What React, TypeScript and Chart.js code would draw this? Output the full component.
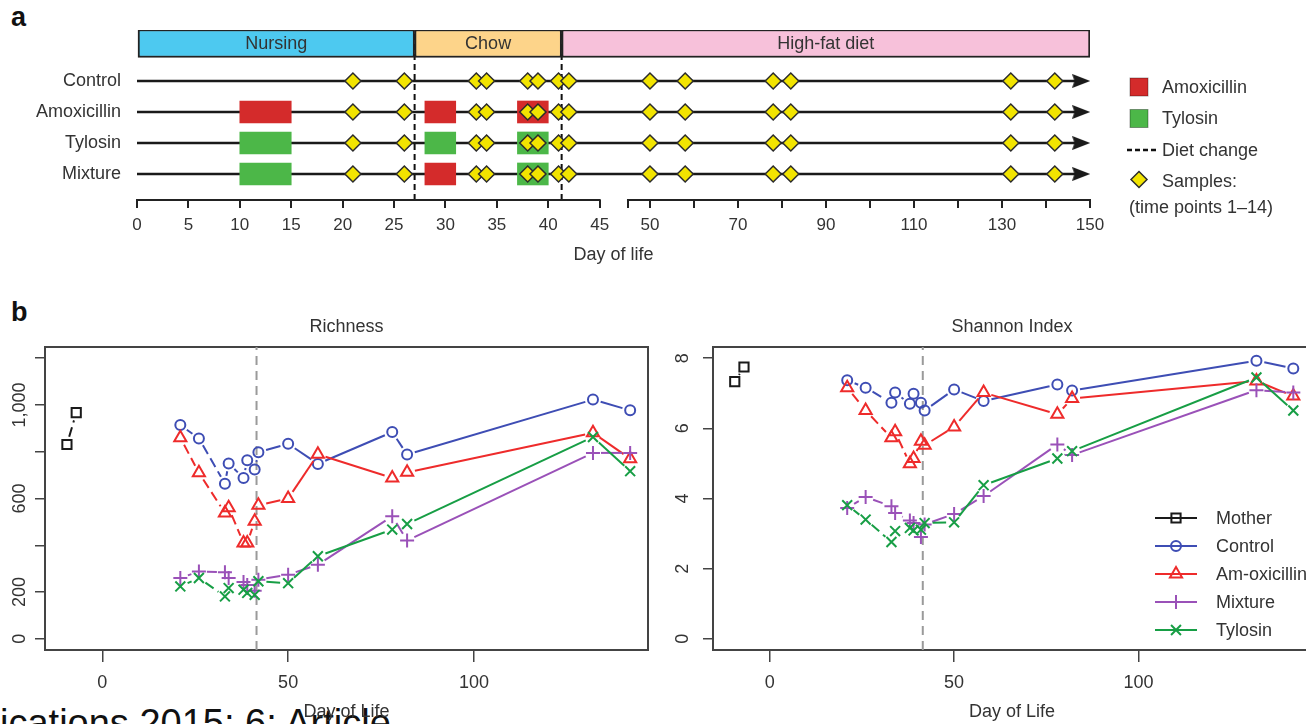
import React, { useEffect, useRef } from 'react';
import { Chart, registerables, LinearScale } from 'chart.js';
import { drawPoint } from 'chart.js/helpers';

Chart.register(...registerables);

const FONT = '"Liberation Sans", Arial, Helvetica, sans-serif';
const TEXT = '#333333';

// ---------------- Panel a data ----------------
const ROW_NAMES = ['Control', 'Amoxicillin', 'Tylosin', 'Mixture'];
const ROW_LEVELS = [4, 3, 2, 1];
const HEADER_LEVEL = 5.21;
const Y_A_MIN = 0.16;
const Y_A_MAX = 5.645;
const SAMPLE_DAYS = [21, 26, 33, 34, 38, 39, 41, 42, 50, 58, 78, 82, 132, 142];
const TREATMENT_WINDOWS = [[10, 15], [28, 31], [37, 40]];
const ROW_REGIMENS = [
  [null, null, null],
  ['Amoxicillin', 'Amoxicillin', 'Amoxicillin'],
  ['Tylosin', 'Tylosin', 'Tylosin'],
  ['Tylosin', 'Amoxicillin', 'Tylosin'],
];
const DRUGS = ['Amoxicillin', 'Tylosin'];
const PHASE_NAMES = ['Nursing', 'Chow', 'High-fat diet'];
const PHASE_STARTS = [0, 27, 41.3];
const PHASE_ENDS = [27, 41.3, 150];
const DIET_CHANGE_DAYS = [27, 41.3];
const TIMELINE_START = 0;
const ARROW_DAY = 148;
const AXIS_A_MIN = 0;
const AXIS_A_MAX = 150;
const AXIS_A_BREAK = 45;
const X_TICKS_A_LEFT = [0, 5, 10, 15, 20, 25, 30, 35, 40, 45];
const X_TICKS_A_RIGHT = [45, 50, 60, 70, 80, 90, 100, 110, 120, 130, 140, 150];
const X_LABELS_A_RIGHT = [50, 70, 90, 110, 130, 150];
const LEGEND_A_LABELS = ['Amoxicillin', 'Tylosin', 'Diet change', 'Samples:', '(time points 1\u201314)'];

// ---------------- Panel b data ----------------
const SERIES_NAMES = ['Mother', 'Control', 'Am-oxicillin', 'Mixture', 'Tylosin'];
const MOTHER_DAYS = [-9.5, -7];
const DAYS_B = [21, 26, 33, 34, 38, 39, 41, 42, 50, 58, 78, 82, 132, 142];
const DIET_CHANGE_B = 41.5;

const RICH_MOTHER = [831, 967];
const RICH_CONTROL = [914, 857, 663, 750, 688, 764, 724, 798, 834, 748, 884, 788, 1023, 977];
const RICH_AMOX = [860, 710, 538, 560, 410, 410, 503, 571, 600, 789, 688, 712, 881, 770];
const RICH_MIXTURE = [260, 288, 285, 260, 243, 230, 205, 253, 274, 317, 524, 420, 795, 795];
const RICH_TYLOSIN = [224, 260, 181, 217, 210, 196, 188, 246, 238, 353, 467, 491, 863, 717];

const SHAN_MOTHER = [7.33, 7.75];
const SHAN_CONTROL = [7.37, 7.16, 6.73, 7.02, 6.7, 6.99, 6.73, 6.51, 7.11, 6.78, 7.25, 7.08, 7.93, 7.71];
const SHAN_AMOX = [7.16, 6.51, 5.73, 5.9, 4.99, 5.14, 5.63, 5.52, 6.04, 7.02, 6.4, 6.85, 7.35, 6.92];
const SHAN_MIXTURE = [3.73, 4.04, 3.78, 3.59, 3.37, 3.3, 2.9, 3.26, 3.56, 4.07, 5.54, 5.24, 7.09, 7.02];
const SHAN_TYLOSIN = [3.81, 3.4, 2.76, 3.07, 3.16, 3.09, 3.11, 3.3, 3.32, 4.38, 5.14, 5.35, 7.45, 6.51];

const X_B_MIN = -15.4;
const X_B_MAX = 146.8;
const X_TICKS_B = [0, 50, 100];
const RICH_Y_MIN = -48;
const RICH_Y_MAX = 1248;
const RICH_Y_TICKS = [0, 200, 400, 600, 800, 1000, 1200];
const RICH_Y_LABELED = [0, 200, 600, 1000];
const SHAN_Y_MIN = -0.32;
const SHAN_Y_MAX = 8.32;
const SHAN_Y_TICKS = [0, 2, 4, 6, 8];
const SHAN_Y_LABELED = [0, 2, 4, 6, 8];

// ---------------- styles ----------------
const PHASE_COLORS = ['#4DC9F0', '#FDD48A', '#F7C1DA'];
const DRUG_COLORS: any = { Amoxicillin: '#D42B2B', Tylosin: '#4CB748' };
const SAMPLE_FILL = '#F2E400';
const SERIES_COLORS = ['#1A1A1A', '#3E4DB4', '#EE2B2B', '#9A51B8', '#179E45'];
const SERIES_MARKERS = ['rect', 'circle', 'triangle', 'cross', 'crossRot'];
const SERIES_RADII = [6.5, 5, 7, 7, 7];
const POINT_GAP = 8;
const DASH_ON = 10;
const DASH_OFF = 5;
const LEFT_SPAN_FRAC = 0.4855;
const RIGHT_START_FRAC = 0.5152;
const BREAK_EPS = 1e-6;

// ---------------- broken axis scale ----------------
class BrokenLinearScale extends LinearScale {
  static id = 'brokenLinear';
  static defaults = LinearScale.defaults;
  getPixelForValue(value: any) {
    if (value === null || value === undefined || isNaN(value)) return NaN;
    const lo = (this as any).min;
    const hi = (this as any).max;
    const dec = value <= AXIS_A_BREAK
      ? ((value - lo) / (AXIS_A_BREAK - lo)) * LEFT_SPAN_FRAC
      : RIGHT_START_FRAC + ((value - AXIS_A_BREAK) / (hi - AXIS_A_BREAK)) * (1 - RIGHT_START_FRAC);
    return (this as any).getPixelForDecimal(dec);
  }
  getValueForPixel(pixel: number) {
    const dec = (this as any).getDecimalForPixel(pixel);
    const lo = (this as any).min;
    const hi = (this as any).max;
    if (dec <= LEFT_SPAN_FRAC) return lo + (dec / LEFT_SPAN_FRAC) * (AXIS_A_BREAK - lo);
    return AXIS_A_BREAK + ((dec - RIGHT_START_FRAC) / (1 - RIGHT_START_FRAC)) * (hi - AXIS_A_BREAK);
  }
}
Chart.register(BrokenLinearScale as any);

// ---------------- helpers ----------------
function font(size: number, weight: any = 'normal') {
  return { family: FONT, size, weight, lineHeight: 1.2 };
}

function gapDash(c: any, dashed: boolean): number[] {
  const p0 = c.p0;
  const p1 = c.p1;
  const len = Math.hypot(p1.x - p0.x, p1.y - p0.y);
  const inner = len - 2 * POINT_GAP;
  if (inner <= 0) return [0, len + 1000];
  const pattern: number[] = [0, POINT_GAP];
  if (!dashed) {
    pattern.push(inner, POINT_GAP + 1000);
    return pattern;
  }
  let rem = inner;
  let on = true;
  while (rem > 0.01) {
    const seg = Math.min(on ? DASH_ON : DASH_OFF, rem);
    pattern.push(seg);
    rem -= seg;
    on = !on;
  }
  if (pattern.length % 2 === 1) pattern.push(POINT_GAP + 1000);
  else pattern[pattern.length - 1] += POINT_GAP + 1000;
  return pattern;
}

function makeArrowHead(len: number, height: number, color: string) {
  const c = document.createElement('canvas');
  c.width = len;
  c.height = height;
  const g = c.getContext('2d')!;
  g.fillStyle = color;
  g.beginPath();
  g.moveTo(0, 0);
  g.lineTo(len, height / 2);
  g.lineTo(0, height);
  g.lineTo(len * 0.12, height / 2);
  g.closePath();
  g.fill();
  return c;
}

// ---------------- plugins ----------------
const phaseLabelPlugin = {
  id: 'phaseLabels',
  afterDatasetsDraw(chart: any) {
    const idx = chart.data.datasets.findIndex((d: any) => d.role === 'header');
    if (idx < 0) return;
    const meta = chart.getDatasetMeta(idx);
    const ctx = chart.ctx;
    ctx.save();
    ctx.font = `18px ${FONT}`;
    ctx.fillStyle = TEXT;
    ctx.textAlign = 'center';
    ctx.textBaseline = 'middle';
    meta.data.forEach((el: any, k: number) => {
      const p = el.getProps(['x', 'y', 'base'], true);
      ctx.fillText(PHASE_NAMES[k], (p.x + p.base) / 2, p.y + 1);
    });
    ctx.restore();
  },
};

const brokenAxisPlugin = {
  id: 'brokenAxis',
  afterDraw(chart: any) {
    const s = chart.scales.x;
    const ctx = chart.ctx;
    const y = s.top;
    ctx.save();
    ctx.strokeStyle = '#222';
    ctx.lineWidth = 2;
    ctx.lineCap = 'square';
    ctx.beginPath();
    ctx.moveTo(s.getPixelForValue(AXIS_A_MIN), y);
    ctx.lineTo(s.getPixelForValue(AXIS_A_BREAK), y);
    ctx.moveTo(s.getPixelForValue(AXIS_A_BREAK + BREAK_EPS), y);
    ctx.lineTo(s.getPixelForValue(AXIS_A_MAX), y);
    ctx.stroke();
    ctx.restore();
  },
};

const legendAPlugin = {
  id: 'legendA',
  afterDraw(chart: any) {
    const { ctx, chartArea } = chart;
    const sx = chartArea.right + 49;
    const tx = chartArea.right + 72;
    const y0 = chartArea.top + 57;
    const dy = 31.5;
    ctx.save();
    ctx.font = `18px ${FONT}`;
    ctx.textBaseline = 'middle';
    ctx.textAlign = 'left';
    LEGEND_A_LABELS.forEach((label, i) => {
      if (i === 4) {
        const y = y0 + 3 * dy + 27;
        ctx.fillStyle = TEXT;
        ctx.fillText(label, sx - 10, y);
        return;
      }
      const y = y0 + i * dy;
      if (i < 2) {
        ctx.fillStyle = DRUG_COLORS[DRUGS[i]];
        ctx.fillRect(sx - 9, y - 9, 18, 18);
        ctx.strokeStyle = 'rgba(0,0,0,0.35)';
        ctx.lineWidth = 1;
        ctx.strokeRect(sx - 9, y - 9, 18, 18);
      } else if (i === 2) {
        ctx.strokeStyle = '#111';
        ctx.lineWidth = 2.5;
        ctx.setLineDash([5, 3]);
        ctx.beginPath();
        ctx.moveTo(sx - 12, y);
        ctx.lineTo(sx + 18, y);
        ctx.stroke();
        ctx.setLineDash([]);
      } else if (i === 3) {
        ctx.fillStyle = SAMPLE_FILL;
        ctx.strokeStyle = '#2B2B2B';
        ctx.lineWidth = 1.5;
        drawPoint(ctx, { pointStyle: 'rectRot', radius: 8, borderWidth: 1.5, rotation: 0 } as any, sx, y - 2);
      }
      ctx.fillStyle = TEXT;
      ctx.fillText(label, tx, y + 1);
    });
    ctx.restore();
  },
};

const plotBoxPlugin = {
  id: 'plotBox',
  beforeDatasetsDraw(chart: any) {
    const { ctx, chartArea: a } = chart;
    ctx.save();
    ctx.strokeStyle = '#444';
    ctx.lineWidth = 2;
    ctx.strokeRect(a.left, a.top, a.right - a.left, a.bottom - a.top);
    ctx.restore();
  },
};

const panelTitlePlugin = {
  id: 'panelTitle',
  afterDraw(chart: any, _args: any, opts: any) {
    if (!opts || !opts.text) return;
    const { ctx, chartArea: a } = chart;
    ctx.save();
    ctx.font = `18px ${FONT}`;
    ctx.fillStyle = TEXT;
    ctx.textAlign = 'center';
    ctx.textBaseline = 'middle';
    ctx.fillText(opts.text, (a.left + a.right) / 2, a.top - opts.gap);
    ctx.restore();
  },
};

const legendBPlugin = {
  id: 'legendB',
  afterDraw(chart: any, _args: any, opts: any) {
    if (!opts || !opts.show) return;
    const ctx = chart.ctx;
    ctx.save();
    ctx.font = `18px ${FONT}`;
    ctx.textBaseline = 'middle';
    ctx.textAlign = 'left';
    let row = 0;
    chart.data.datasets.forEach((ds: any) => {
      if (!ds.inLegend) return;
      const y = opts.y0 + row * opts.dy;
      ctx.strokeStyle = ds.borderColor;
      ctx.lineWidth = 2;
      ctx.setLineDash([]);
      ctx.beginPath();
      ctx.moveTo(opts.x0, y);
      ctx.lineTo(opts.x0 + opts.lineLen, y);
      ctx.stroke();
      ctx.fillStyle = 'rgba(0,0,0,0)';
      drawPoint(ctx, { pointStyle: ds.pointStyle, radius: ds.pointRadius, borderWidth: 2, rotation: 0 } as any, opts.x0 + opts.lineLen / 2, y);
      ctx.fillStyle = TEXT;
      ctx.fillText(ds.label, opts.textX, y + 1);
      row += 1;
    });
    ctx.restore();
  },
};

// ---------------- chart builders ----------------
function buildPanelA() {
  const arrow = makeArrowHead(18, 14, '#1A1A1A');
  const datasets: any[] = [];

  datasets.push({
    type: 'scatter',
    label: 'Samples',
    data: ROW_LEVELS.flatMap((level) => SAMPLE_DAYS.map((d) => ({ x: d, y: level }))),
    pointStyle: 'rectRot',
    pointRadius: 8,
    pointHoverRadius: 8,
    pointBackgroundColor: SAMPLE_FILL,
    pointBorderColor: '#2B2B2B',
    pointBorderWidth: 1.5,
    order: 0,
  });

  datasets.push({
    type: 'bar',
    role: 'header',
    label: 'Phases',
    indexAxis: 'y',
    grouped: false,
    data: PHASE_NAMES.map((_, k) => ({ x: [PHASE_STARTS[k], PHASE_ENDS[k]], y: HEADER_LEVEL })),
    backgroundColor: PHASE_COLORS,
    borderColor: '#222',
    borderWidth: 2,
    borderSkipped: false,
    barThickness: 28,
    maxBarThickness: 28,
    order: 1,
  });

  DRUGS.forEach((drug) => {
    const data: any[] = [];
    ROW_REGIMENS.forEach((reg, r) => {
      reg.forEach((d, w) => {
        if (d === drug) data.push({ x: TREATMENT_WINDOWS[w], y: ROW_LEVELS[r] });
      });
    });
    datasets.push({
      type: 'bar',
      label: drug,
      indexAxis: 'y',
      grouped: false,
      data,
      backgroundColor: DRUG_COLORS[drug],
      borderWidth: 0,
      barThickness: 22,
      maxBarThickness: 22,
      order: 2,
    });
  });

  ROW_LEVELS.forEach((level, r) => {
    datasets.push({
      type: 'line',
      label: ROW_NAMES[r],
      data: [{ x: TIMELINE_START, y: level }, { x: ARROW_DAY, y: level }],
      borderColor: '#1A1A1A',
      borderWidth: 2.5,
      showLine: true,
      pointRadius: [0, 9],
      pointHoverRadius: [0, 9],
      pointStyle: arrow,
      order: 3,
    });
  });

  DIET_CHANGE_DAYS.forEach((d) => {
    datasets.push({
      type: 'line',
      label: 'Diet change',
      data: [{ x: d, y: Y_A_MIN }, { x: d, y: Y_A_MAX }],
      borderColor: '#111',
      borderWidth: 2,
      borderDash: [6, 4],
      showLine: true,
      pointRadius: 0,
      order: 4,
    });
  });

  return {
    type: 'scatter',
    data: { datasets },
    plugins: [phaseLabelPlugin, brokenAxisPlugin, legendAPlugin],
    options: {
      animation: false,
      responsive: false,
      devicePixelRatio: 1,
      events: [],
      layout: { padding: { left: 0, right: 216, top: 30, bottom: 0 } },
      plugins: {
        legend: { display: false },
        tooltip: { enabled: false },
        title: { display: false },
      },
      scales: {
        x: {
          type: 'brokenLinear',
          min: AXIS_A_MIN,
          max: AXIS_A_MAX,
          offset: false,
          beginAtZero: false,
          afterBuildTicks: (s: any) => {
            s.ticks = [
              ...X_TICKS_A_LEFT.map((v) => ({ value: v })),
              ...X_TICKS_A_RIGHT.map((v) => ({ value: v === AXIS_A_BREAK ? v + BREAK_EPS : v })),
            ];
          },
          afterFit: (s: any) => { s.height = 70; },
          ticks: {
            autoSkip: false,
            maxRotation: 0,
            minRotation: 0,
            color: TEXT,
            font: font(17),
            padding: 7,
            callback: (v: any) => (X_TICKS_A_LEFT.includes(v) || X_LABELS_A_RIGHT.includes(v) ? String(v) : ''),
          },
          grid: { offset: false, drawOnChartArea: false, drawTicks: true, tickLength: 8, color: '#222', lineWidth: 2 },
          border: { display: false },
          title: { display: true, text: 'Day of life', color: TEXT, font: font(18), padding: { top: 0, bottom: 4 } },
        },
        y: {
          type: 'linear',
          min: Y_A_MIN,
          max: Y_A_MAX,
          offset: false,
          beginAtZero: false,
          afterBuildTicks: (s: any) => { s.ticks = ROW_LEVELS.map((v) => ({ value: v })); },
          afterFit: (s: any) => { s.width = 137; },
          ticks: {
            autoSkip: false,
            color: TEXT,
            font: font(18),
            padding: 16,
            callback: (v: any) => {
              const i = ROW_LEVELS.indexOf(v);
              return i >= 0 ? ROW_NAMES[i] : '';
            },
          },
          grid: { display: false, drawTicks: false, offset: false },
          border: { display: false },
        },
      },
    },
  };
}

function buildPanelB(spec: any) {
  const xsList = [MOTHER_DAYS, DAYS_B, DAYS_B, DAYS_B, DAYS_B];
  const datasets: any[] = [];
  spec.values.forEach((ys: number[], i: number) => {
    const xs = xsList[i];
    datasets.push({
      type: 'line',
      label: SERIES_NAMES[i],
      inLegend: true,
      data: xs.map((x, k) => ({ x, y: ys[k] })),
      borderColor: SERIES_COLORS[i],
      borderWidth: 2,
      showLine: true,
      tension: 0,
      pointStyle: SERIES_MARKERS[i],
      pointRadius: SERIES_RADII[i],
      pointHoverRadius: SERIES_RADII[i],
      pointBorderWidth: 2,
      pointBorderColor: SERIES_COLORS[i],
      pointBackgroundColor: 'rgba(0,0,0,0)',
      segment: { borderDash: (c: any) => gapDash(c, xs[c.p1DataIndex] <= DIET_CHANGE_B) },
      order: SERIES_NAMES.length - i,
    });
  });
  datasets.push({
    type: 'line',
    label: 'Diet change',
    inLegend: false,
    data: [{ x: DIET_CHANGE_B, y: spec.yMin }, { x: DIET_CHANGE_B, y: spec.yMax }],
    borderColor: '#9A9A9A',
    borderWidth: 2,
    borderDash: [9, 6],
    showLine: true,
    pointRadius: 0,
    order: 20,
  });

  return {
    type: 'scatter',
    data: { datasets },
    plugins: [plotBoxPlugin, legendBPlugin, panelTitlePlugin],
    options: {
      animation: false,
      responsive: false,
      devicePixelRatio: 1,
      events: [],
      layout: { padding: { left: 0, right: spec.padRight, top: 47, bottom: 0 } },
      plugins: {
        legend: { display: false },
        tooltip: { enabled: false },
        title: { display: false },
        panelTitle: { text: spec.title, gap: 20 },
        legendB: spec.legend,
      },
      scales: {
        x: {
          type: 'linear',
          min: X_B_MIN,
          max: X_B_MAX,
          offset: false,
          afterBuildTicks: (s: any) => { s.ticks = X_TICKS_B.map((v) => ({ value: v })); },
          afterFit: (s: any) => { s.height = 74; },
          ticks: { autoSkip: false, maxRotation: 0, color: TEXT, font: font(18), padding: 10, callback: (v: any) => String(v) },
          grid: { drawOnChartArea: false, drawTicks: true, tickLength: 12, color: '#444', lineWidth: 1.5 },
          border: { display: false },
          title: { display: true, text: 'Day of Life', color: TEXT, font: font(18), padding: { top: 0, bottom: 1 } },
        },
        y: {
          type: 'linear',
          min: spec.yMin,
          max: spec.yMax,
          offset: false,
          afterBuildTicks: (s: any) => { s.ticks = spec.yTicks.map((v: number) => ({ value: v })); },
          afterFit: (s: any) => { s.width = spec.yWidth; },
          ticks: {
            autoSkip: false,
            minRotation: 90,
            maxRotation: 90,
            crossAlign: 'center',
            color: TEXT,
            font: font(18),
            padding: spec.yPad,
            callback: (v: any) => (spec.yLabeled.includes(v) ? Number(v).toLocaleString('en-US') : ''),
          },
          grid: { drawOnChartArea: false, drawTicks: true, tickLength: 10, color: '#444', lineWidth: 1.5 },
          border: { display: false },
        },
      },
    },
  };
}

const buildRichness = () =>
  buildPanelB({
    title: 'Richness',
    values: [RICH_MOTHER, RICH_CONTROL, RICH_AMOX, RICH_MIXTURE, RICH_TYLOSIN],
    yMin: RICH_Y_MIN,
    yMax: RICH_Y_MAX,
    yTicks: RICH_Y_TICKS,
    yLabeled: RICH_Y_LABELED,
    yPad: -7.5,
    yWidth: 45,
    padRight: 12,
    legend: { show: false },
  });

const buildShannon = () =>
  buildPanelB({
    title: 'Shannon Index',
    values: [SHAN_MOTHER, SHAN_CONTROL, SHAN_AMOX, SHAN_MIXTURE, SHAN_TYLOSIN],
    yMin: SHAN_Y_MIN,
    yMax: SHAN_Y_MAX,
    yTicks: SHAN_Y_TICKS,
    yLabeled: SHAN_Y_LABELED,
    yPad: 15,
    yWidth: 53,
    padRight: 4,
    legend: { show: true, x0: 495, lineLen: 42, textX: 556, y0: 218, dy: 28 },
  });

function ChartCanvas(props: { build: () => any; left: number; top: number; width: number; height: number }) {
  const ref = useRef<HTMLCanvasElement>(null);
  useEffect(() => {
    const chart = new Chart(ref.current as HTMLCanvasElement, props.build());
    return () => chart.destroy();
  }, []);
  return (
    <canvas
      ref={ref}
      width={props.width}
      height={props.height}
      style={{ position: 'absolute', left: props.left, top: props.top, width: props.width, height: props.height }}
    />
  );
}

export default function App() {
  return (
    <div
      style={{
        position: 'fixed',
        left: 0,
        top: 0,
        width: 1306,
        height: 724,
        overflow: 'hidden',
        background: '#ffffff',
        fontFamily: FONT,
      }}
    >
      <div
        style={{
          position: 'absolute',
          left: 0,
          top: 704,
          width: 398,
          overflow: 'hidden',
          whiteSpace: 'nowrap',
          fontSize: 38,
          lineHeight: '38px',
          color: '#111',
        }}
      >
        ications 2015; 6: Article
      </div>
      <div style={{ position: 'absolute', left: 11, top: 4, fontSize: 27, lineHeight: '27px', fontWeight: 'bold', color: '#111' }}>a</div>
      <div style={{ position: 'absolute', left: 11, top: 299, fontSize: 27, lineHeight: '27px', fontWeight: 'bold', color: '#111' }}>b</div>
      <ChartCanvas build={buildPanelA} left={0} top={0} width={1306} height={270} />
      <ChartCanvas build={buildRichness} left={0} top={300} width={660} height={424} />
      <ChartCanvas build={buildShannon} left={660} top={300} width={660} height={424} />
    </div>
  );
}
